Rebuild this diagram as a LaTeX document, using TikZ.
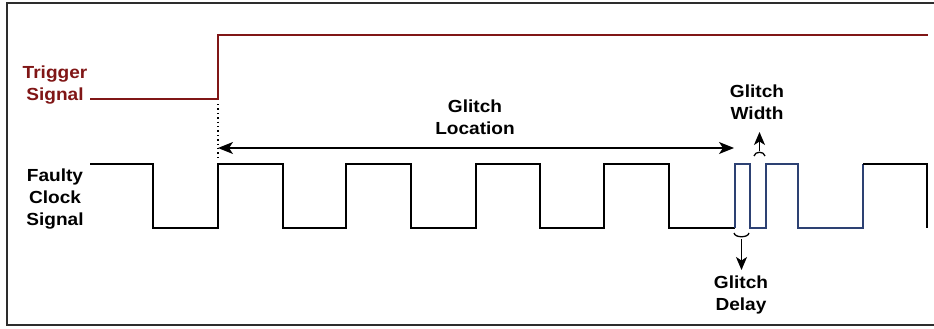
\documentclass[tikz,border=0pt]{standalone}
\usepackage{fontspec}
\setmainfont{Liberation Sans}[FakeStretch=1.09]
\usetikzlibrary{arrows.meta}
\definecolor{trigred}{RGB}{128,22,22}
\definecolor{glitchblue}{RGB}{45,65,115}
\definecolor{framegray}{RGB}{45,45,45}
\tikzset{
  lbl/.style={font=\bfseries\fontsize{17.5}{22}\selectfont, align=center, inner sep=0pt},
  sig/.style={line width=1.4pt, line join=miter},
  bigtip/.style={{Stealth[length=15pt,width=12pt,inset=4pt]}-{Stealth[length=15pt,width=12pt,inset=4pt]}},
  smalltip/.style={-{Stealth[length=13pt,width=11pt,inset=3.5pt]}}
}
\begin{document}
\begin{tikzpicture}[x=1pt,y=-1pt]
\useasboundingbox (0,0) rectangle (934,329);
% frame (open on the right)
\draw[framegray, line width=2pt] (934,3) -- (7,3) -- (7,325) -- (934,325);

% labels
\node[lbl, text=trigred] (trig) at (55,85) {Trigger\\Signal};
\node[lbl] (clk) at (55,199) {Faulty\\Clock\\Signal};
\node[lbl] (loc) at (475,117) {Glitch\\Location};
\node[lbl] (wid) at (757,102) {Glitch\\Width};
\node[lbl] (del) at (741,295) {Glitch\\Delay};

% trigger signal
\coordinate (t0) at (90,99);
\coordinate (trise) at (218,99);
\coordinate (t1) at (928,35);
\draw[sig, trigred] (t0) -- (trise) |- (t1);

% dotted marker
\coordinate (d0) at (218,104);
\coordinate (d1) at (218,159);
\draw[line width=1.4pt, dash pattern=on 1.4pt off 3pt] (d0) -- (d1);

% clock signal (black part)
\draw[sig] (90,164) -- (153,164) -- (153,228) -- (218,228) -- (218,164) -- (283,164)
  -- (283,228) -- (346,228) -- (346,164) -- (411,164) -- (411,228) -- (476,228)
  -- (476,164) -- (540,164) -- (540,228) -- (604,228) -- (604,164) -- (669,164)
  -- (669,228) -- (735,228);
% glitch part (blue)
\draw[sig, glitchblue] (735,228) -- (735,164) -- (750,164) -- (750,228) -- (766,228)
  -- (766,164) -- (798,164) -- (798,228) -- (863,228) -- (863,164);
% final part
\draw[sig] (863,164) -- (927,164) -- (927,228);

% glitch location arrow
\coordinate (la) at (218,148);
\coordinate (lb) at (734,148);
\draw[line width=1.4pt, bigtip] (la) -- (lb);

% glitch width brace and arrow
\coordinate (wb0) at (754,156);
\coordinate (wb1) at (765,156);
\draw[line width=1.3pt] (wb0) .. controls (755,151) and (764,151) .. (wb1);
\coordinate (wa0) at (759.5,151);
\coordinate (wa1) at (759.5,132);
\draw[line width=1.4pt, smalltip] (wa0) -- (wa1);

% glitch delay brace and arrow
\coordinate (db0) at (734,233);
\coordinate (db1) at (749,233);
\draw[line width=1.3pt] (db0) .. controls (735,238) and (748,238) .. (db1);
\coordinate (da0) at (741.5,239);
\coordinate (da1) at (741.5,270);
\draw[line width=1.4pt, smalltip] (da0) -- (da1);
\end{tikzpicture}
\end{document}
